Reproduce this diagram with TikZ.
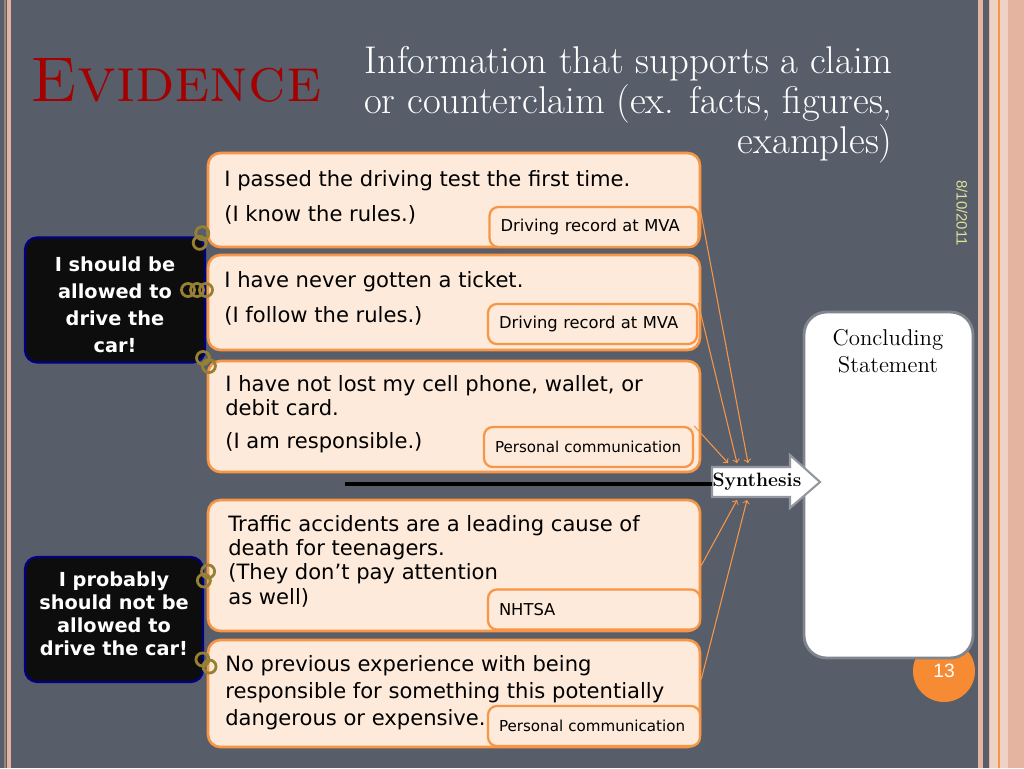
\documentclass[tikz,border=0pt]{standalone}
\usepackage{fontspec}
\newfontfamily\comicfont{DejaVu Sans}
\newfontfamily\arialfont{Liberation Sans}
\usepackage{tikz}
\usetikzlibrary{calc,arrows}

\definecolor{slate}{RGB}{87,94,106}
\definecolor{peach}{RGB}{253,234,218}
\definecolor{boxorange}{RGB}{247,150,70}
\definecolor{titlered}{RGB}{165,0,0}
\definecolor{navy}{RGB}{0,0,128}
\definecolor{linkgold}{RGB}{150,128,52}
\definecolor{pinkband}{RGB}{229,180,160}
\definecolor{datecolor}{RGB}{222,226,150}
\definecolor{pageorange}{RGB}{246,139,51}
\definecolor{concgray}{RGB}{128,133,142}

\tikzstyle{evbox} = [draw=boxorange, line width=1.5pt, fill=peach, rounded corners=7pt, minimum width=9.84cm]
\tikzstyle{srcbox} = [draw=boxorange, line width=1.3pt, fill=peach, rounded corners=5pt, minimum height=0.8cm, text width=3.74cm, inner xsep=0.22cm, align=left, font=\comicfont\fontsize{9.3}{10}\selectfont]
\tikzstyle{evtext} = [anchor=north west, inner sep=0pt, align=left, font=\comicfont\fontsize{12}{13.8}\selectfont]
\tikzstyle{claimbox} = [draw=navy, line width=1.3pt, fill=black!95, rounded corners=7pt, minimum width=3.6cm, minimum height=2.5cm]
\tikzstyle{claimtext} = [text=white, align=center, inner sep=0pt]
\tikzstyle{link} = [draw=linkgold, line width=1.6pt]
\tikzstyle{feed} = [draw=boxorange, line width=0.6pt, ->, >=to]

\begin{document}
\begin{tikzpicture}[x=0.02cm, y=-0.02cm]
        % Bounding box
        \useasboundingbox (0,0) rectangle (1024,768);
        \fill[slate] (0,0) rectangle (1024,768);

        % Borders
        \fill[pinkband!45!slate] (4,0) rectangle (6,768);
        \fill[pinkband] (7,0) rectangle (11,768);
        \fill[pinkband] (978,0) rectangle (983,768);
        \fill[pinkband] (989,0) rectangle (1024,768);
        \fill[pinkband!60!white] (990,0) rectangle (1008,768);
        \draw[boxorange, line width=0.8pt] (999,0) -- (999,768);

        % Title
        \node[anchor=base west, inner sep=0pt, text=titlered, font=\fontsize{36}{40}\selectfont\scshape] (title) at (30,101) {Evidence};
        \node[anchor=north east, align=right, inner sep=0pt, text=white, font=\fontsize{22}{22.7}\selectfont] (meaning) at (893,46) {Information that supports a claim\\or counterclaim (ex. facts, figures,\\examples)};
        \node[rotate=-90, text=datecolor, font=\arialfont\fontsize{8.5}{9}\selectfont] (date) at (962,213) {8/10/2011};

        % Evidence boxes
        \node[evbox, minimum height=1.88cm] (e1) at (454,200) {};
        \node[evbox, minimum height=1.9cm]  (e2) at (454,302.5) {};
        \node[evbox, minimum height=2.22cm] (e3) at (454,416.5) {};
        \node[evbox, minimum height=2.62cm] (e4) at (454,565.5) {};
        \node[evbox, minimum height=2.14cm] (e5) at (454,693.5) {};

        \node[evtext] (t1) at (224,170) {I passed the driving test the first time.\\[6pt](I know the rules.)};
        \node[evtext] (t2) at (224,271) {I have never gotten a ticket.\\[6pt](I follow the rules.)};
        \node[evtext] (t3) at (225,375) {I have not lost my cell phone, wallet, or\\debit card.\\[5pt](I am responsible.)};
        \node[evtext] (t4) at (228,515) {Traffic accidents are a leading cause of\\death for teenagers.\\(They don’t pay attention\\as well)};
        \node[evtext, font=\comicfont\fontsize{12}{15.3}\selectfont] (t5) at (225,655) {No previous experience with being\\responsible for something this potentially\\dangerous or expensive.};

        % Sources
        \node[srcbox] (s1) at (594,227) {Driving record at MVA};
        \node[srcbox] (s2) at (592.5,324) {Driving record at MVA};
        \node[srcbox, font=\comicfont\fontsize{8.6}{10}\selectfont] (s3) at (588.5,447) {Personal communication};
        \node[srcbox, text width=3.8cm] (s4) at (594,609.5) {NHTSA};
        \node[srcbox, text width=3.8cm, font=\comicfont\fontsize{8.6}{10}\selectfont] (s5) at (594,726) {Personal communication};

        % Claims
        \node[claimbox] (c1) at (115,300) {};
        \node[claimtext, font=\comicfont\bfseries\fontsize{11}{15.3}\selectfont] (c1text) at (115,305) {I should be\\allowed to\\drive the\\car!};
        \node[claimbox, minimum width=3.56cm] (c2) at (114,619.5) {};
        \node[claimtext, font=\comicfont\bfseries\fontsize{11}{13}\selectfont] (c2text) at (114,614) {I probably\\should not be\\allowed to\\drive the car!};

        % Chain links
        \foreach \x/\y/\a in {201/238/75, 206/362/-54, 206/576/65, 206/663/-45}
            \draw[link] (\x,\y) ++(\a:0.1cm) circle (0.13cm) ++(\a:-0.2cm) circle (0.13cm);
        \foreach \x in {188,197,206}
            \draw[link] (\x,290) circle (0.13cm);

        % Concluding statement
        \node[circle, fill=pageorange, minimum size=1.24cm, text=white, font=\arialfont\fontsize{11}{13}\selectfont] (pagenum) at (944,671) {13};
        \node[draw=concgray, line width=1.6pt, fill=white, rounded corners=0.45cm, minimum width=3.38cm, minimum height=6.92cm] (conc) at (888.5,485) {};
        \node[align=center, font=\fontsize{13}{15.3}\selectfont] (conctext) at (888,351) {Concluding\\Statement};

        % Synthesis
        \draw[draw=concgray!85, fill=white, line width=1.2pt] (712,467) -- (790,467) -- (790,455) -- (820,482) -- (790,508) -- (790,497) -- (712,497) -- cycle;
        \node[inner sep=0pt, font=\bfseries\fontsize{11}{13}\selectfont] (syn) at (757,482) {Synthesis};
        \coordinate (lineend) at (345,484);
        \draw[line width=2.3pt] (lineend) -- (syn.west |- lineend);

        % Edges
        \coordinate (in1) at (748,463);
        \coordinate (in2) at (737,463);
        \coordinate (in3) at (728,463);
        \coordinate (in4) at (737,500);
        \coordinate (in5) at (747,500);
        \draw[feed] (s1.north east) -- (in1);
        \draw[feed] (s2.north east) -- (in2);
        \draw[feed] (s3.north east) -- (in3);
        \draw[feed] (e4.east) -- (in4);
        \draw[feed] ($(e5.north east)!0.37!(e5.south east)$) -- (in5);

    \end{tikzpicture}
\end{document}
